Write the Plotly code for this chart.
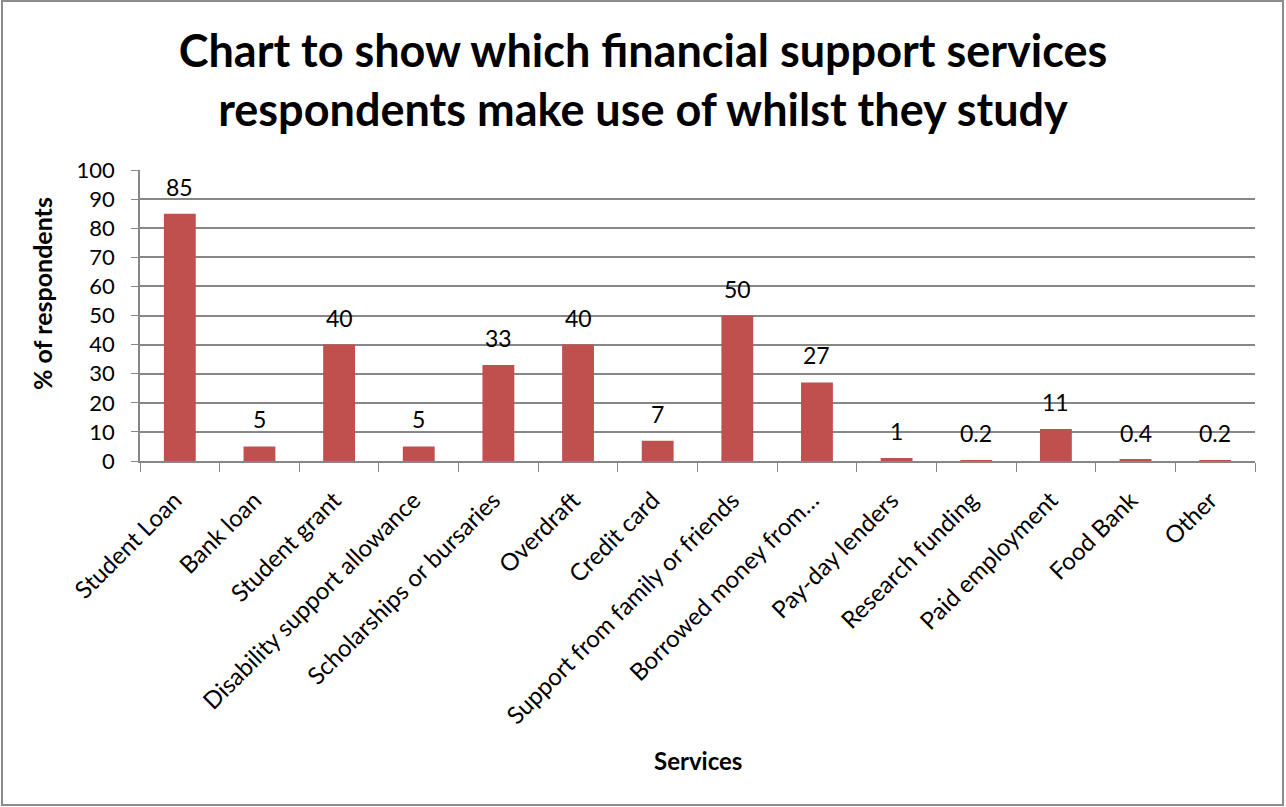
import plotly.graph_objects as go

categories = ["Student Loan", "Bank loan", "Student grant", "Disability support allowance",
              "Scholarships or bursaries", "Overdraft", "Credit card",
              "Support from family or friends", "Borrowed money from…", "Pay-day lenders",
              "Research funding", "Paid employment", "Food Bank", "Other"]
values = [85, 5, 40, 5, 33, 40, 7, 50, 27, 1, 0.2, 11, 0.4, 0.2]
value_labels = ["85", "5", "40", "5", "33", "40", "7", "50", "27", "1", "0.2", "11", "0.4", "0.2"]
y_ticks = [0, 10, 20, 30, 40, 50, 60, 70, 80, 90, 100]

W, H = 1286, 807
L, R, T, B = 140, 31, 170, 346
FONT = "Lato, Carlito, Calibri, sans-serif"
GRID = "#878787"

fig = go.Figure()
fig.add_trace(go.Bar(x=categories, y=values, marker=dict(color="#C0504D", line=dict(width=0)),
                     hoverinfo="x+y"))

for c, v, t in zip(categories, values, value_labels):
    fig.add_annotation(x=c, y=v, text=t, showarrow=False, yanchor="bottom", yshift=11,
                       font=dict(family=FONT, size=23, color="#000000"))

pw = W - L - R
ph = H - T - B
fig.add_shape(type="rect", xref="paper", yref="paper",
              x0=(2 - L) / pw, x1=(W - 3 - L) / pw,
              y0=-(H - 2 - T - ph) / ph, y1=1 + (T - 1) / ph,
              line=dict(color="#8c8c8c", width=2), fillcolor="rgba(0,0,0,0)", layer="below")

fig.add_annotation(xref="paper", yref="paper", x=0.5, y=-(760 - (T + ph)) / ph,
                   text="<b>Services</b>", showarrow=False, xanchor="center", yanchor="middle",
                   font=dict(family=FONT, size=24, color="#000000"))

fig.add_annotation(xref="paper", yref="paper", x=(42 - L) / pw, y=(T + ph - 293) / ph,
                   text="<b>% of respondents</b>", showarrow=False, textangle=-90,
                   xanchor="center", yanchor="middle",
                   font=dict(family=FONT, size=25, color="#000000"))

fig.update_layout(
    width=W, height=H,
    margin=dict(l=L, r=R, t=T, b=B, autoexpand=False),
    paper_bgcolor="white", plot_bgcolor="white",
    bargap=0.6, showlegend=False,
    title=dict(text="Chart to show which financial support services<br>respondents make use of whilst they study",
               x=0.5, xanchor="center", y=1 - 67 / H, yanchor="middle",
               font=dict(family=FONT, size=45, color="#000000", weight="bold")),
    xaxis=dict(tickangle=-45, tickfont=dict(family=FONT, size=24, color="#000000"),
               showline=True, linecolor=GRID, linewidth=1.5,
               ticks="outside", ticklen=9, tickcolor=GRID, tickson="boundaries",
               ticklabelstandoff=14, ticklabelshift=-5,
               showgrid=False),
    yaxis=dict(range=[0, 100], tickvals=y_ticks, tickfont=dict(family=FONT, size=22, color="#000000"),
               showline=True, linecolor=GRID, linewidth=1.5,
               ticks="outside", ticklen=7, tickcolor=GRID, ticklabelstandoff=12,
               showgrid=True, gridcolor=GRID, gridwidth=1.5, zeroline=False),
)

fig.write_html("out.html", config={"displayModeBar": False},
               post_script="document.body.style.margin='0';")
